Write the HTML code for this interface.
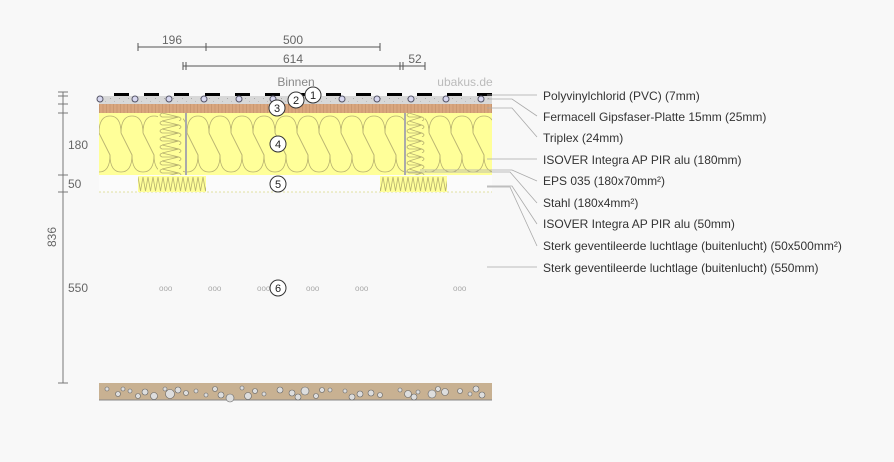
<!DOCTYPE html>
<html><head><meta charset="utf-8"><style>
body{margin:0;background:#f8f8f8;}
svg{display:block;font-family:"Liberation Sans",sans-serif;}
</style></head><body>
<svg width="894" height="462" viewBox="0 0 894 462" xmlns="http://www.w3.org/2000/svg">
<defs>
<pattern id="ins" patternUnits="userSpaceOnUse" x="99" y="113" width="22" height="62">
<rect width="22" height="62" fill="#ffff99"/>
<g fill="none" stroke="#b8b270" stroke-width="0.8">
<path d="M0,20 Q0,3 11,3 Q22,3 22,20 L33,42 Q33,59 22,59 Q11,59 11,42 L0,20"/>
<path d="M-22,20 Q-22,3 -11,3 Q0,3 0,20 L11,42 Q11,59 0,59 Q-11,59 -11,42 L-22,20"/>
</g>
</pattern>
<pattern id="eps" patternUnits="userSpaceOnUse" x="138" y="176" width="5" height="16">
<rect width="5" height="16" fill="#ffff99"/>
<path d="M0,1 L2.5,15 L5,1" fill="none" stroke="#b8b270" stroke-width="0.8"/>
</pattern>
<pattern id="coil" patternUnits="userSpaceOnUse" x="158" y="113" width="25" height="8">
<rect width="25" height="8" fill="#ffff99"/>
<path d="M4,0 Q0,2 4,4 L21,4 Q25,6 21,8 M4,0 L21,4 M4,8 L21,4" fill="none" stroke="#b8b270" stroke-width="0.8"/>
</pattern>
<pattern id="coil2" patternUnits="userSpaceOnUse" x="405" y="113" width="20" height="8">
<rect width="20" height="8" fill="#ffff99"/>
<path d="M4,0 Q0,2 4,4 L17,4 Q21,6 17,8 M4,0 L17,4 M4,8 L17,4" fill="none" stroke="#b8b270" stroke-width="0.8"/>
</pattern>
<pattern id="trip" patternUnits="userSpaceOnUse" x="99" y="104" width="3.5" height="9">
<rect width="3.5" height="9" fill="#d9a67e"/>
<line x1="0.5" y1="0" x2="0.5" y2="9" stroke="#c08e68" stroke-width="0.6"/>
</pattern>
<pattern id="ferm" patternUnits="userSpaceOnUse" x="99" y="96" width="9" height="8">
<rect width="9" height="8" fill="#d8d8d8"/>
<rect x="2" y="2" width="1" height="1" fill="#aaa"/><rect x="6" y="5" width="1" height="1" fill="#bbb"/>
</pattern>
</defs>

<!-- top dims -->
<g stroke="#555" stroke-width="1" fill="none">
<line x1="138" y1="47" x2="380" y2="47"/>
<line x1="138" y1="43" x2="138" y2="51"/><line x1="206" y1="43" x2="206" y2="51"/><line x1="380" y1="43" x2="380" y2="51"/>
<line x1="183" y1="66" x2="425" y2="66"/>
<line x1="183" y1="62" x2="183" y2="70"/><line x1="186" y1="62" x2="186" y2="70"/>
<line x1="400" y1="62" x2="400" y2="70"/><line x1="403" y1="62" x2="403" y2="70"/><line x1="425" y1="62" x2="425" y2="70"/>
</g>
<g fill="#666" font-size="12" text-anchor="middle">
<text x="172" y="44">196</text><text x="293" y="44">500</text>
<text x="293" y="63">614</text><text x="415" y="63">52</text>
</g>
<text x="296" y="86" font-size="12" fill="#888" text-anchor="middle">Binnen</text>
<text x="465" y="86" font-size="12" fill="#bbb" text-anchor="middle">ubakus.de</text>

<!-- left dims -->
<g stroke="#777" stroke-width="1">
<line x1="63" y1="92" x2="63" y2="383"/>
<line x1="58" y1="92" x2="68" y2="92"/><line x1="58" y1="96" x2="68" y2="96"/>
<line x1="58" y1="104" x2="68" y2="104"/><line x1="58" y1="113" x2="68" y2="113"/>
<line x1="58" y1="175" x2="68" y2="175"/><line x1="58" y1="192" x2="68" y2="192"/>
<line x1="58" y1="383" x2="68" y2="383"/>
</g>
<g fill="#666" font-size="12">
<text x="68" y="149">180</text><text x="68" y="188">50</text><text x="68" y="292">550</text>
<text transform="translate(56,237) rotate(-90)" text-anchor="middle">836</text>
</g>

<!-- layers -->
<rect x="99" y="96" width="393" height="8" fill="url(#ferm)"/>
<g fill="#000">
<rect x="114" y="93" width="15" height="3"/><rect x="144" y="93" width="15" height="3"/><rect x="174" y="93" width="15" height="3"/><rect x="205" y="93" width="15" height="3"/><rect x="235" y="93" width="15" height="3"/><rect x="265" y="93" width="15" height="3"/><rect x="296" y="93" width="15" height="3"/><rect x="326" y="93" width="15" height="3"/><rect x="356" y="93" width="15" height="3"/><rect x="387" y="93" width="15" height="3"/><rect x="417" y="93" width="15" height="3"/><rect x="447" y="93" width="15" height="3"/><rect x="477" y="93" width="15" height="3"/>
</g>
<g fill="#d8d8f0" stroke="#556" stroke-width="1">
<circle cx="100" cy="99" r="3"/><circle cx="135" cy="99" r="3"/><circle cx="169" cy="99" r="3"/><circle cx="204" cy="99" r="3"/><circle cx="239" cy="99" r="3"/><circle cx="273" cy="99" r="3"/><circle cx="342" cy="99" r="3"/><circle cx="377" cy="99" r="3"/><circle cx="411" cy="99" r="3"/><circle cx="446" cy="99" r="3"/><circle cx="481" cy="99" r="3"/>
</g>
<rect x="99" y="104" width="393" height="9" fill="url(#trip)"/>
<rect x="99" y="113" width="393" height="62" fill="url(#ins)"/>
<rect x="158" y="113" width="25" height="62" fill="url(#coil)"/>
<rect x="405" y="113" width="20" height="62" fill="url(#coil2)"/>
<rect x="185" y="113" width="2" height="62" fill="#aaa"/>
<rect x="404" y="113" width="2" height="62" fill="#aaa"/>
<rect x="99" y="175" width="393" height="17" fill="#fbfbfb"/>
<line x1="99" y1="192" x2="492" y2="192" stroke="#e0e0a0" stroke-dasharray="2,2"/>
<rect x="138" y="176" width="68" height="16" fill="url(#eps)"/>
<rect x="380" y="176" width="67" height="16" fill="url(#eps)"/>

<!-- air dots -->
<g fill="#aaa" font-size="8">
<text x="159" y="291">ooo</text><text x="208" y="291">ooo</text><text x="257" y="291">ooo</text><text x="306" y="291">ooo</text><text x="355" y="291">ooo</text><text x="453" y="291">ooo</text>
</g>

<!-- ground -->
<rect x="99" y="383" width="393" height="17" fill="#c8b192"/>
<line x1="99" y1="400" x2="492" y2="400" stroke="#888"/>
<g fill="#ddd" stroke="#666" stroke-width="0.6">
<circle cx="107" cy="389" r="2"/><circle cx="118" cy="394" r="2.5"/><circle cx="130" cy="391" r="2"/><circle cx="145" cy="392" r="3"/><circle cx="154" cy="396" r="3.5"/><circle cx="165" cy="389" r="2"/><circle cx="170" cy="394" r="4.5"/><circle cx="186" cy="393" r="2.5"/><circle cx="196" cy="391" r="2"/><circle cx="206" cy="395" r="2"/><circle cx="215" cy="389" r="2.5"/><circle cx="230" cy="398" r="4"/><circle cx="242" cy="388" r="2"/><circle cx="255" cy="391" r="2.5"/><circle cx="264" cy="394" r="2"/><circle cx="280" cy="390" r="3"/><circle cx="292" cy="393" r="3"/><circle cx="305" cy="391" r="4"/><circle cx="316" cy="396" r="2.5"/><circle cx="330" cy="390" r="2"/><circle cx="345" cy="391" r="2"/><circle cx="360" cy="394" r="3"/><circle cx="371" cy="393" r="3"/><circle cx="380" cy="395" r="2.5"/><circle cx="400" cy="390" r="2"/><circle cx="408" cy="394" r="3.5"/><circle cx="418" cy="392" r="2"/><circle cx="432" cy="394" r="4"/><circle cx="445" cy="392" r="3.5"/><circle cx="460" cy="391" r="2.5"/><circle cx="470" cy="394" r="2"/><circle cx="482" cy="395" r="3"/>
<circle cx="123" cy="389" r="2"/><circle cx="138" cy="396" r="2.5"/><circle cx="178" cy="390" r="3"/><circle cx="221" cy="395" r="3"/><circle cx="248" cy="396" r="3.5"/><circle cx="298" cy="397" r="3"/><circle cx="322" cy="390" r="2.5"/><circle cx="352" cy="397" r="3"/><circle cx="414" cy="397" r="3"/><circle cx="438" cy="389" r="2.5"/><circle cx="476" cy="389" r="3"/>
</g>

<!-- numbered circles -->
<g fill="#fff" stroke="#333" stroke-width="1">
<circle cx="313" cy="95" r="8"/><circle cx="296" cy="100" r="8"/><circle cx="277" cy="108" r="8"/>
<circle cx="278" cy="144" r="8"/><circle cx="278" cy="184" r="8"/><circle cx="278" cy="288" r="8"/>
</g>
<g fill="#222" font-size="11" text-anchor="middle">
<text x="313" y="99">1</text><text x="296" y="104">2</text><text x="277" y="112">3</text>
<text x="278" y="148">4</text><text x="278" y="188">5</text><text x="278" y="292">6</text>
</g>

<!-- leaders -->
<g stroke="#aaa" stroke-width="0.8" fill="none">
<path d="M487,95 L537,95"/>
<path d="M487,99 L512,99 L537,116"/>
<path d="M487,108 L512,108 L537,137"/>
<path d="M487,159 L537,159"/>
<path d="M420,170 L512,170 L537,181"/>
<path d="M405,172 L510,172 L537,203"/>
<path d="M487,186 L512,186 L537,224"/>
<path d="M487,187 L510,187 L537,246"/>
<path d="M487,267 L537,267"/>
</g>
<g fill="#333" font-size="12">
<text x="543" y="100">Polyvinylchlorid (PVC) (7mm)</text>
<text x="543" y="121">Fermacell Gipsfaser-Platte 15mm (25mm)</text>
<text x="543" y="142">Triplex (24mm)</text>
<text x="543" y="164">ISOVER Integra AP PIR alu (180mm)</text>
<text x="543" y="185">EPS 035 (180x70mm²)</text>
<text x="543" y="207">Stahl (180x4mm²)</text>
<text x="543" y="228">ISOVER Integra AP PIR alu (50mm)</text>
<text x="543" y="250">Sterk geventileerde luchtlage (buitenlucht) (50x500mm²)</text>
<text x="543" y="272">Sterk geventileerde luchtlage (buitenlucht) (550mm)</text>
</g>
</svg>
</body></html>
